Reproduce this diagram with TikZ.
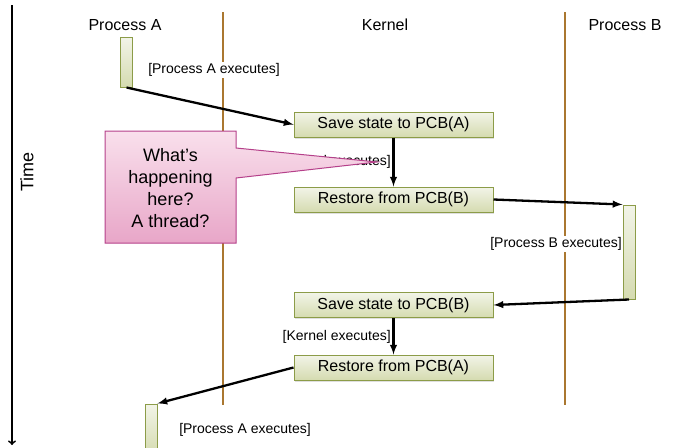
\documentclass[tikz,border=0pt]{standalone}
\usepackage{fontspec}
\setmainfont{Liberation Sans}
\usetikzlibrary{shadows}
\definecolor{boxtop}{HTML}{F2F4E8}
\definecolor{boxbot}{HTML}{D5DBB0}
\definecolor{boxline}{HTML}{8C9C48}
\definecolor{pinktop}{HTML}{F9E0EC}
\definecolor{pinkbot}{HTML}{E8A6C8}
\definecolor{pinkline}{HTML}{B5408A}
\definecolor{lifebrown}{HTML}{AA7730}
\begin{document}
\begin{tikzpicture}[>=latex, x=1pt, y=-1pt,
  lane/.style={font=\fontsize{16}{18}\selectfont},
  stepbox/.style={draw=boxline, line width=1pt, top color=boxtop, bottom color=boxbot,
    minimum width=199pt, minimum height=25pt, inner sep=0pt, font=\fontsize{16}{18}\selectfont,
    drop shadow={opacity=.25, shadow xshift=1pt, shadow yshift=-1.5pt}},
  runbar/.style={draw=boxline, line width=1pt, top color=boxtop, bottom color=boxbot,
    minimum width=12pt, inner sep=0pt},
  note/.style={fill=white, inner sep=1pt, font=\fontsize{14}{16}\selectfont},
  flow/.style={->, line width=2.3pt},
  lifeline/.style={lifebrown, line width=2pt}]
\useasboundingbox (0,0) rectangle (676,447);
% time axis and lifelines
\coordinate (t0) at (12,5);
\coordinate (t1) at (12,445);
\draw[->, >=to, line width=1.8pt] (t0) -- (t1);
\node[rotate=90, font=\fontsize{18}{20}\selectfont] (time) at (27,172) {Time};
\foreach \x in {223,565}
{
    \draw[lifeline] (\x,12) -- (\x,405);
}
\node[lane] (pa) at (125,25) {Process A};
\node[lane] (kern) at (385,25) {Kernel};
\node[lane] (pb) at (625,25) {Process B};
% running bars
\node[runbar, minimum height=50pt] (runA) at (126.5,62) {};
\node[runbar, minimum height=94pt] (runB) at (629,252) {};
\node[runbar, minimum height=50pt] (runA2) at (151,429) {};
% kernel steps
\node[stepbox] (saveA) at (393.5,124.5) {Save state to PCB(A)};
\node[stepbox] (restB) at (393.5,199.5) {Restore from PCB(B)};
\node[stepbox] (saveB) at (393.5,305) {Save state to PCB(B)};
\node[stepbox] (restA) at (393.5,367.5) {Restore from PCB(A)};
% labels
\node[note] (exA) at (214,70) {[Process A executes]};
\node[note, anchor=east] (exK1) at (392,162) {[Kernel executes]};
\node[note, anchor=east] (exB) at (623,244) {[Process B executes]};
\node[note, anchor=east] (exK2) at (392,337) {[Kernel executes]};
\node[note] (exA2) at (245,430) {[Process A executes]};
% switches
\draw[flow] (runA.south) -- (saveA.west);
\draw[flow] (saveA.south) -- (restB.north);
\draw[flow] (restB.east) -- (runB.north west);
\draw[flow] (runB.south) -- (saveB.east);
\draw[flow] (saveB.south) -- (restA.north);
\draw[flow] (restA.west) -- (runA2.north east);
% callout
\draw[pinkline, line width=1pt, top color=pinktop, bottom color=pinkbot]
    (105,131) -- (236,131) -- (236,148) -- (377,162) -- (236,178) -- (236,243) -- (105,243) -- cycle;
\node[align=center, font=\fontsize{18}{22}\selectfont] (ask) at (170.5,188) {What’s\\happening\\here?\\A thread?};
\end{tikzpicture}
\end{document}
